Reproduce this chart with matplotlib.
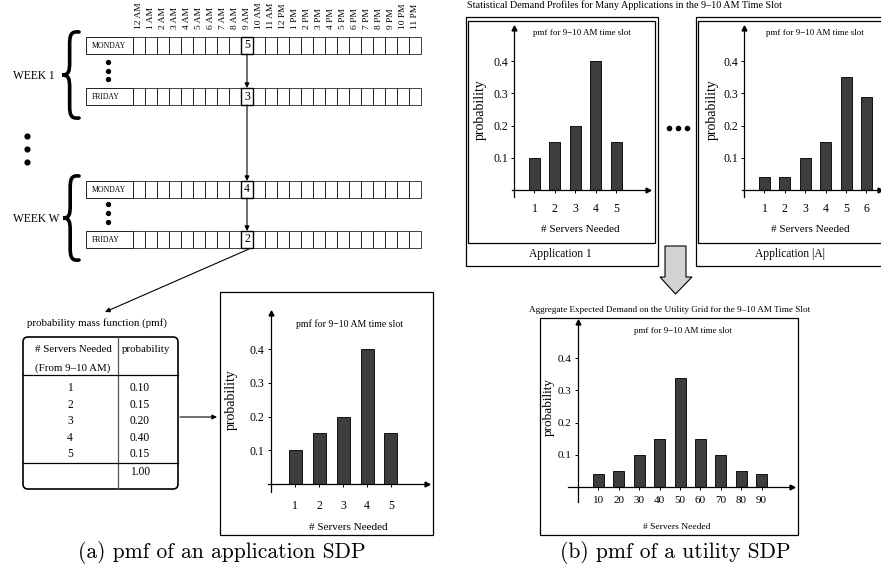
import matplotlib
matplotlib.use("Agg")
import matplotlib.pyplot as plt
from matplotlib.patches import Rectangle, FancyBboxPatch, Polygon, PathPatch
from matplotlib.path import Path

plt.rcParams["font.family"] = ["Liberation Serif", "DejaVu Serif"]

# ---- data ----
hours = ["12 AM", "1 AM", "2 AM", "3 AM", "4 AM", "5 AM", "6 AM", "7 AM",
         "8 AM", "9 AM", "10 AM", "11 AM", "12 PM", "1 PM", "2 PM", "3 PM",
         "4 PM", "5 PM", "6 PM", "7 PM", "8 PM", "9 PM", "10 PM", "11 PM"]
row_days = ["MONDAY", "FRIDAY", "MONDAY", "FRIDAY"]
row_values = [5, 3, 4, 2]          # servers seen in the 9 AM slot
slot = 9
week_labels = ["WEEK 1", "WEEK W"]

table_servers = [1, 2, 3, 4, 5]
table_probs = [0.10, 0.15, 0.20, 0.40, 0.15]
table_total = 1.00

app1_servers = [1, 2, 3, 4, 5]
app1_probs = [0.10, 0.15, 0.20, 0.40, 0.15]
appA_servers = [1, 2, 3, 4, 5, 6]
appA_probs = [0.04, 0.04, 0.10, 0.15, 0.35, 0.29]
util_servers = [10, 20, 30, 40, 50, 60, 70, 80, 90]
util_probs = [0.04, 0.05, 0.10, 0.15, 0.34, 0.15, 0.10, 0.05, 0.04]
yticks = [0.1, 0.2, 0.3, 0.4]

W, H = 881, 568
fig = plt.figure(figsize=(W / 100, H / 100), dpi=100)
ov = fig.add_axes([0, 0, 1, 1])
ov.set_xlim(0, W)
ov.set_ylim(H, 0)
ov.axis("off")

INK = "#222222"
BAR = "#3d3d3d"


def arrow(x0, y0, x1, y1, lw=0.8, ms=7):
    ov.annotate("", xy=(x1, y1), xytext=(x0, y0),
                arrowprops=dict(arrowstyle="-|>", lw=lw, color="black",
                                mutation_scale=ms, shrinkA=0, shrinkB=0))


def brace(xt, xr, y0, y1, lw=2.6):
    ym = (y0 + y1) / 2
    xm = xt + 0.45 * (xr - xt)
    h = ym - y0
    verts = [(xr, y0), (xm + 1, y0 - 1), (xm, y0 + 0.08 * h), (xm, y0 + 0.3 * h),
             (xm, ym - 0.3 * h),
             (xm, ym - 0.08 * h), (xm - 1, ym), (xt, ym),
             (xm - 1, ym), (xm, ym + 0.08 * h), (xm, ym + 0.3 * h),
             (xm, y1 - 0.3 * h),
             (xm, y1 - 0.08 * h), (xm + 1, y1 + 1), (xr, y1)]
    codes = [Path.MOVETO, Path.CURVE4, Path.CURVE4, Path.CURVE4, Path.LINETO,
             Path.CURVE4, Path.CURVE4, Path.CURVE4,
             Path.CURVE4, Path.CURVE4, Path.CURVE4, Path.LINETO,
             Path.CURVE4, Path.CURVE4, Path.CURVE4]
    ov.add_patch(PathPatch(Path(verts, codes), fill=False, lw=lw,
                           color="black", capstyle="round"))


def vdots(x, ys, s=9):
    ov.plot([x] * len(ys), ys, "o", color="black", ms=s / 3.2)


# ---- (a) weekly grid ----
cell_x0, cell_w, lab_x0 = 133, 12, 86
row_tops = [37, 88, 181, 231]
row_h = 17
for i, h in enumerate(hours):
    ov.text(cell_x0 + cell_w * i + cell_w / 2, 29, h, rotation=90,
            ha="center", va="bottom", fontsize=6.8)

for day, val, yt in zip(row_days, row_values, row_tops):
    ov.add_patch(Rectangle((lab_x0, yt), cell_x0 - lab_x0, row_h,
                           fill=False, lw=0.7, ec=INK))
    ov.text(lab_x0 + 6, yt + row_h / 2 + 0.5, day, ha="left", va="center",
            fontsize=5.6)
    for i in range(len(hours)):
        ov.add_patch(Rectangle((cell_x0 + cell_w * i, yt), cell_w, row_h,
                               fill=False, lw=0.6, ec=INK))
    ov.add_patch(Rectangle((cell_x0 + cell_w * slot, yt), cell_w, row_h,
                           fill=False, lw=1.0, ec="black", zorder=3))
    ov.text(cell_x0 + cell_w * slot + cell_w / 2, yt + row_h / 2, str(val),
            ha="center", va="center", fontsize=8.5)

xa = cell_x0 + cell_w * slot + cell_w / 2
for k in range(3):
    arrow(xa, row_tops[k] + row_h, xa, row_tops[k + 1])

brace(62, 79, 32, 118)
brace(63, 79, 176, 260)
ov.text(13, 76, week_labels[0], ha="left", va="center", fontsize=8.3)
ov.text(13, 219, week_labels[1], ha="left", va="center", fontsize=8.3)
vdots(108, [62, 71, 79])
vdots(108, [204, 213, 222])
vdots(27, [136, 149, 162], s=11)

arrow(249, 249, 105, 312)

# ---- pmf table ----
ov.text(97, 323, "probability mass function (pmf)", ha="center", va="center",
        fontsize=7.8)
ov.add_patch(FancyBboxPatch((23, 337), 155, 152,
                            boxstyle="round,pad=0,rounding_size=5",
                            fill=False, lw=1.2, ec="black"))
ov.plot([118, 118], [337, 489], color="#555555", lw=0.9)
ov.plot([23, 178], [375, 375], color="black", lw=0.9)
ov.plot([23, 178], [463, 463], color="black", lw=0.9)
ov.text(73, 350, "# Servers Needed", ha="center", va="center", fontsize=7.8)
ov.text(73, 368, "(From 9\u201310 AM)", ha="center", va="center", fontsize=7.8)
ov.text(122, 350, "probability", ha="left", va="center", fontsize=7.8)
for j, (s, p) in enumerate(zip(table_servers, table_probs)):
    yy = 388 + 16.6 * j
    ov.text(70, yy, str(s), ha="center", va="center", fontsize=8.3)
    ov.text(140, yy, f"{p:.2f}", ha="center", va="center", fontsize=8.3)
ov.text(140, 472, f"{table_total:.2f}", ha="center", va="center", fontsize=8.3)
arrow(180, 417, 217, 417)


# ---- pmf bar charts ----
def pmf_chart(l, r, t, b, y0, yax, unit_px, step, xs, vals, px01, barw, pad,
              fs=8.5):
    ax = fig.add_axes([l / W, 1 - b / H, (r - l) / W, (b - t) / H])
    k = step / unit_px
    ax.set_xlim((l - yax) * k, (r - yax) * k)
    ax.set_ylim(-(b - y0) / (px01 * 10), (y0 - t) / (px01 * 10))
    ax.bar(xs, vals, width=barw * k, color=BAR, edgecolor="#111111", lw=0.7)
    ax.patch.set_visible(False)
    for sp in ("top", "right"):
        ax.spines[sp].set_visible(False)
    for sp in ("left", "bottom"):
        ax.spines[sp].set_position(("data", 0))
        ax.spines[sp].set_linewidth(0.9)
    ax.set_xticks(xs)
    ax.set_xticklabels([str(v) for v in xs], fontsize=fs)
    ax.set_yticks(yticks)
    ax.set_yticklabels([f"{v:.1f}" for v in yticks], fontsize=fs)
    ax.tick_params(axis="x", length=2.5, width=0.7, pad=pad)
    ax.tick_params(axis="y", length=2.5, width=0.7, pad=2)
    ax.plot(1, 0, ">k", ms=3.5, transform=ax.get_yaxis_transform(),
            clip_on=False)
    ax.plot(0, 1, "^k", ms=3.5, transform=ax.get_xaxis_transform(),
            clip_on=False)
    return ax


YL_FS = 10

# (a) chart
ov.add_patch(Rectangle((220, 292), 213, 243, fill=False, lw=0.9, ec="black"))
pmf_chart(268, 427, 313, 492, 484, 271, 24, 1, table_servers, table_probs,
          33.7, 13, 9)
ov.text(350, 324, "pmf for 9\u221210 AM time slot", ha="center", va="center",
        fontsize=7)
ov.text(348, 527, "# Servers Needed", ha="center", va="center", fontsize=8)
ov.text(231, 400, "probability", rotation=90, ha="center", va="center",
        fontsize=YL_FS)

# (b) application charts
ov.text(624, 5, "Statistical Demand Profiles for Many Applications in the "
        "9\u201310 AM Time Slot", ha="center", va="center", fontsize=7.3)
ov.add_patch(Rectangle((466, 17), 192, 249, fill=False, lw=0.9, ec="black"))
ov.add_patch(Rectangle((468, 21), 187, 222, fill=False, lw=0.9, ec="black"))
ov.add_patch(Rectangle((696, 17), 200, 249, fill=False, lw=0.9, ec="black"))
ov.add_patch(Rectangle((698, 21), 200, 222, fill=False, lw=0.9, ec="black"))
ov.text(560, 254, "Application 1", ha="center", va="center", fontsize=8.3)
ov.text(790, 254, "Application |A|", ha="center", va="center", fontsize=8.3)

pmf_chart(512, 648, 28, 197, 190, 514, 20.4, 1, app1_servers, app1_probs,
          32.2, 11, 7)
pmf_chart(742, 880, 28, 197, 190, 744, 20.4, 1, appA_servers, appA_probs,
          32.2, 11, 7)
for cx in (582, 815):
    ov.text(cx, 33, "pmf for 9\u221210 AM time slot", ha="center",
            va="center", fontsize=6.5)
for cx in (580, 810):
    ov.text(cx, 230, "# Servers Needed", ha="center", va="center",
            fontsize=8)
for cx in (480, 712):
    ov.text(cx, 110, "probability", rotation=90, ha="center", va="center",
            fontsize=YL_FS)
ov.plot([669, 678, 687], [128, 128, 128], "o", color="black", ms=3)

ov.add_patch(Polygon([(665, 246), (686, 246), (686, 277), (692, 277),
                      (675.5, 294), (660, 277), (665, 277)],
                     closed=True, fc="#d2d2d2", ec="black", lw=0.8))

# (b) utility chart
ov.text(670, 310, "Aggregate Expected Demand on the Utility Grid for the "
        "9\u201310 AM Time Slot", ha="center", va="center", fontsize=6.6)
ov.add_patch(Rectangle((540, 318), 258, 217, fill=False, lw=0.9, ec="black"))
pmf_chart(568, 792, 322, 502, 487, 578, 20.4, 10, util_servers, util_probs,
          32.2, 11, 4, fs=8)
ov.text(683, 331, "pmf for 9\u221210 AM time slot", ha="center", va="center",
        fontsize=6.5)
ov.text(677, 527, "# Servers Needed", ha="center", va="center", fontsize=6.8)
ov.text(549, 407, "probability", rotation=90, ha="center", va="center",
        fontsize=9.5)

# captions
ov.text(222, 553, "(a) pmf of an application SDP", ha="center", va="center",
        fontsize=15.5, family="cmr10")
ov.text(675, 553, "(b) pmf of a utility SDP", ha="center", va="center",
        fontsize=15.5, family="cmr10")

fig.savefig("out.png", dpi=100)
